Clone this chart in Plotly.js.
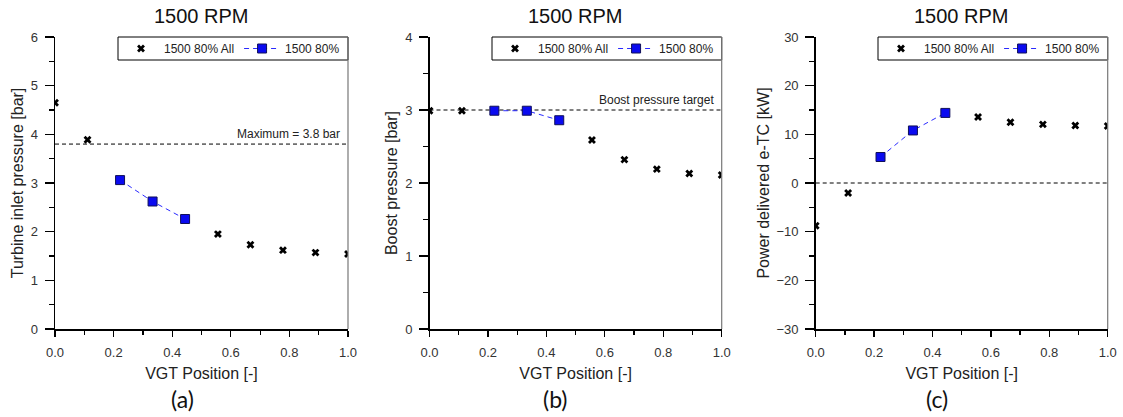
<!DOCTYPE html>
<html><head><meta charset="utf-8">
<script src="https://cdn.plot.ly/plotly-3.0.1.min.js"></script>
<style>body{margin:0;background:#fff}#chart{width:1123px;height:417px}</style>
</head><body><div id="chart"></div>
<script>
// ---- data ----
const vgt = [0, 0.111, 0.222, 0.333, 0.444, 0.556, 0.667, 0.778, 0.889, 1.0];
const vgtSel = [0.222, 0.333, 0.444];
const turbineAll = [4.65, 3.89, 3.06, 2.62, 2.26, 1.95, 1.73, 1.62, 1.57, 1.54];
const turbineSel = [3.06, 2.62, 2.26];
const boostAll = [2.99, 2.99, 2.99, 2.99, 2.86, 2.59, 2.32, 2.19, 2.13, 2.11];
const boostSel = [2.99, 2.99, 2.86];
const powerAll = [-8.8, -2.05, 5.34, 10.8, 14.4, 13.56, 12.5, 12.05, 11.8, 11.7];
const powerSel = [5.34, 10.8, 14.4];
const refLines = [3.8, 3.0, 0];
const refLabels = ["Maximum = 3.8 bar", "Boost pressure target", ""];
const panelTitles = ["1500 RPM", "1500 RPM", "1500 RPM"];
const panelTags = ["(a)", "(b)", "(c)"];
const yTitles = ["Turbine inlet pressure [bar]", "Boost pressure [bar]", "Power delivered e-TC [kW]"];
const xTitle = "VGT Position [-]";
const allName = "1500 80% All";
const selName = "1500 80%";

// ---- layout geometry ----
const W = 1123, H = 417;
const px = v => v / W, py = v => (H - v) / H;
const xDomains = [[px(55), px(348)], [px(429.5), px(721.7)], [px(815.7), px(1107.7)]];
const yDomain = [py(329), py(37)];
const yRanges = [[0, 6], [0, 4], [-30, 30]];
const yDticks = [1, 1, 10];
const tagX = [182, 555, 937];
const legendLeft = [118, 492, 878];

const FONT = "'Liberation Sans', Arial, sans-serif";
const allY = [turbineAll, boostAll, powerAll];
const selY = [turbineSel, boostSel, powerSel];

const data = [];
const layout = {
  width: W, height: H,
  margin: {l: 0, r: 0, t: 0, b: 0},
  paper_bgcolor: '#fff', plot_bgcolor: '#fff',
  font: {family: FONT, color: '#222'},
  showlegend: true,
  shapes: [], annotations: []
};

for (let i = 0; i < 3; i++) {
  const sfx = i === 0 ? '' : String(i + 1);
  const xa = 'x' + sfx, ya = 'y' + sfx;
  const lg = 'legend' + sfx;
  data.push({
    x: vgt, y: allY[i], xaxis: xa, yaxis: ya, legend: lg,
    type: 'scatter', mode: 'markers', name: allName,
    marker: {symbol: 'x', size: 7, color: '#000', line: {width: 0}}
  });
  data.push({
    x: vgtSel, y: selY[i], xaxis: xa, yaxis: ya, legend: lg,
    type: 'scatter', mode: 'lines+markers', name: selName,
    line: {color: '#2a2aff', width: 1, dash: '5px,4px'},
    marker: {symbol: 'square', size: 9, color: '#0a0af0', line: {color: '#10105a', width: 1}}
  });
  layout['xaxis' + sfx] = {
    domain: xDomains[i], anchor: ya, range: [0, 1], dtick: 0.2, tick0: 0,
    tickformat: '.1f', ticks: 'outside', ticklen: 6, tickwidth: 1.2, tickcolor: '#000',
    minor: {dtick: 0.1, ticks: 'outside', ticklen: 4, tickwidth: 1.2, tickcolor: '#000', showgrid: false},
    showline: true, linecolor: '#000', linewidth: 1.5, showgrid: false, zeroline: false,
    tickfont: {size: 13, color: '#333', family: FONT}, ticklabelstandoff: 5,
    title: {text: xTitle, font: {size: 16, color: '#222', family: FONT}, standoff: 8},
    fixedrange: true
  };
  layout['yaxis' + sfx] = {
    domain: yDomain, anchor: xa, range: yRanges[i], dtick: yDticks[i],
    ticks: 'outside', ticklen: 9, tickwidth: 1.2, tickcolor: '#000',
    minor: {dtick: yDticks[i] / 2, ticks: 'outside', ticklen: 5, tickwidth: 1.2, tickcolor: '#000', showgrid: false},
    showline: true, linecolor: '#000', linewidth: 1.5, showgrid: false, zeroline: false,
    tickfont: {size: 13, color: '#333', family: FONT}, ticklabelstandoff: 4,
    title: {text: yTitles[i], font: {size: 16, color: '#222', family: FONT}, standoff: 3},
    fixedrange: true
  };
  layout[lg] = {
    orientation: 'h', x: px(legendLeft[i]), xanchor: 'left', y: py(48.5), yanchor: 'middle',
    borderwidth: 0, bgcolor: 'rgba(0,0,0,0)', itemwidth: 36,
    font: {size: 12, family: FONT, color: '#222'}
  };
  // legend frame
  layout.shapes.push({type: 'rect', xref: 'paper', yref: 'paper',
    x0: px(legendLeft[i]), x1: xDomains[i][1], y0: py(60), y1: py(37),
    line: {color: '#000', width: 1}, fillcolor: '#fff', layer: 'above'});
  // reference dashed line
  layout.shapes.push({type: 'line', xref: xa + ' domain', yref: ya, x0: 0, x1: 1,
    y0: refLines[i], y1: refLines[i], line: {color: '#000', width: 1, dash: '4px,3px'}, layer: 'below'});
  // right frame
  layout.shapes.push({type: 'line', xref: xa + ' domain', yref: ya + ' domain', x0: 1, x1: 1,
    y0: 0, y1: 1, line: {color: '#777', width: 1.2}});
  if (refLabels[i]) {
    layout.annotations.push({xref: xa + ' domain', yref: ya, x: 0.98, y: refLines[i],
      xanchor: 'right', yanchor: 'bottom', yshift: 1, showarrow: false, text: refLabels[i],
      font: {size: 12, color: '#222', family: FONT}});
  }
  layout.annotations.push({xref: 'paper', yref: 'paper', x: (xDomains[i][0] + xDomains[i][1]) / 2,
    y: py(16), xanchor: 'center', yanchor: 'middle', showarrow: false, text: panelTitles[i],
    font: {size: 20, color: '#111', family: FONT}});
  layout.annotations.push({xref: 'paper', yref: 'paper', x: px(tagX[i]), y: py(399),
    xanchor: 'center', yanchor: 'middle', showarrow: false, text: panelTags[i],
    font: {size: 23, color: '#111', family: 'Lato, Noto Sans, sans-serif'}});
}

Plotly.newPlot('chart', data, layout, {displayModeBar: false, staticPlot: true});
</script>
</body></html>
